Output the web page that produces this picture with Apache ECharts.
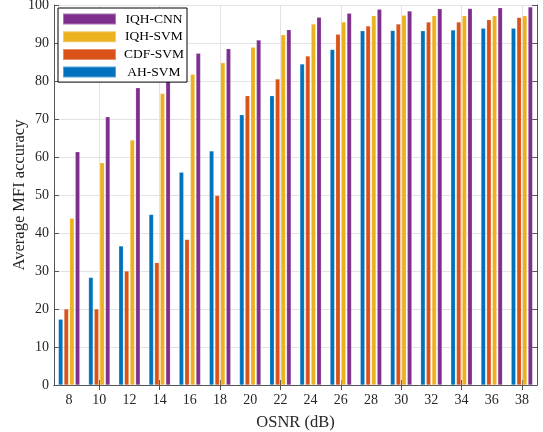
<!DOCTYPE html>
<html>
<head>
<meta charset="utf-8">
<script src="https://cdn.jsdelivr.net/npm/echarts@6/dist/echarts.min.js"></script>
<style>html,body{margin:0;padding:0;background:#fff;}#c{width:543px;height:432px;}</style>
</head>
<body>
<div id="c"></div>
<script>
var categories = ['8','10','12','14','16','18','20','22','24','26','28','30','32','34','36','38'];
var ahSvm  = [17.3, 28.3, 36.6, 44.9, 56.0, 61.6, 71.1, 76.1, 84.5, 88.3, 93.2, 93.3, 93.2, 93.4, 93.9, 93.9];
var cdfSvm = [20.0, 20.0, 30.0, 32.2, 38.3, 49.9, 76.1, 80.5, 86.6, 92.3, 94.5, 95.0, 95.5, 95.5, 96.1, 96.7];
var iqhSvm = [43.9, 58.5, 64.5, 76.7, 81.8, 84.8, 88.9, 92.2, 95.0, 95.5, 97.2, 97.3, 97.2, 97.2, 97.2, 97.2];
var iqhCnn = [61.4, 70.6, 78.2, 84.0, 87.3, 88.5, 90.8, 93.5, 96.8, 97.8, 98.9, 98.4, 99.0, 99.1, 99.3, 99.5];
var yTicks = [0, 10, 20, 30, 40, 50, 60, 70, 80, 90, 100];

var font = 'Liberation Serif';
var axisColor = '#555555';
var textColor = '#262626';
var oddIdx = function (i) { return i % 2 === 1; };

function barSeries(name, data, color) {
  return {
    name: name, type: 'bar', data: data,
    barWidth: 4.5, barGap: '25%',
    itemStyle: { color: color, borderColor: 'rgba(255,255,255,0.35)', borderWidth: 0.5 },
    xAxisIndex: 0, yAxisIndex: 0
  };
}

var chart = echarts.init(document.getElementById('c'), null, { renderer: 'canvas' });
chart.setOption({
  animation: false,
  backgroundColor: '#fff',
  textStyle: { fontFamily: font },
  grid: { left: 54, right: 6, top: 5, bottom: 47, containLabel: false, outerBoundsMode: 'none' },
  legend: {
    data: ['IQH-CNN', 'IQH-SVM', 'CDF-SVM', 'AH-SVM'],
    orient: 'vertical', left: 58, top: 8,
    itemWidth: 53, itemHeight: 11, itemGap: 3.7,
    padding: [4, 3, 3, 4],
    borderColor: '#000', borderWidth: 1, backgroundColor: '#fff',
    icon: 'rect',
    formatter: function (n) { return '{a|' + n + '}'; },
    textStyle: {
      fontFamily: font, fontSize: 13.5, color: '#000',
      rich: { a: { width: 66, align: 'center', fontFamily: font, fontSize: 13.5, color: '#000' } }
    }
  },
  xAxis: [{
    type: 'category', data: categories, position: 'bottom',
    name: 'OSNR (dB)', nameLocation: 'middle', nameGap: 29, nameMoveOverlap: false,
    nameTextStyle: { fontFamily: font, fontSize: 16.5, color: textColor },
    axisLine: { lineStyle: { color: axisColor, width: 1 } },
    axisTick: { show: true, inside: true, length: 5, alignWithLabel: true, interval: oddIdx, lineStyle: { color: axisColor } },
    axisLabel: { interval: 0, fontFamily: font, fontSize: 14, color: textColor, margin: 8 },
    splitLine: { show: true, interval: oddIdx, alignWithLabel: true, lineStyle: { color: '#e3e3e3', width: 1 } }
  }, {
    type: 'category', data: categories, position: 'top',
    axisLine: { lineStyle: { color: axisColor, width: 1 } },
    axisTick: { show: true, inside: true, length: 5, alignWithLabel: true, interval: oddIdx, lineStyle: { color: axisColor } },
    axisLabel: { show: false },
    splitLine: { show: false }
  }],
  yAxis: [{
    type: 'value', min: 0, max: 100, interval: 10,
    name: 'Average MFI accuracy', nameLocation: 'middle', nameGap: 26, nameMoveOverlap: false,
    nameTextStyle: { fontFamily: font, fontSize: 16.5, color: textColor },
    axisLine: { show: true, lineStyle: { color: axisColor, width: 1 } },
    axisTick: { show: true, inside: true, length: 5, lineStyle: { color: axisColor } },
    axisLabel: {
      fontFamily: font, fontSize: 14, color: textColor, margin: 5,
      formatter: function (v) { return yTicks.indexOf(v) >= 0 ? String(v) : ''; }
    },
    splitLine: { show: true, lineStyle: { color: '#e3e3e3', width: 1 } }
  }, {
    type: 'value', min: 0, max: 100, interval: 10, position: 'right',
    axisLine: { show: true, lineStyle: { color: axisColor, width: 1 } },
    axisTick: { show: true, inside: true, length: 5, lineStyle: { color: axisColor } },
    axisLabel: { show: false },
    splitLine: { show: false }
  }],
  series: [
    barSeries('AH-SVM', ahSvm, '#0072BD'),
    barSeries('CDF-SVM', cdfSvm, '#D95319'),
    barSeries('IQH-SVM', iqhSvm, '#EDB120'),
    barSeries('IQH-CNN', iqhCnn, '#7E2F8E')
  ]
});
</script>
</body>
</html>
